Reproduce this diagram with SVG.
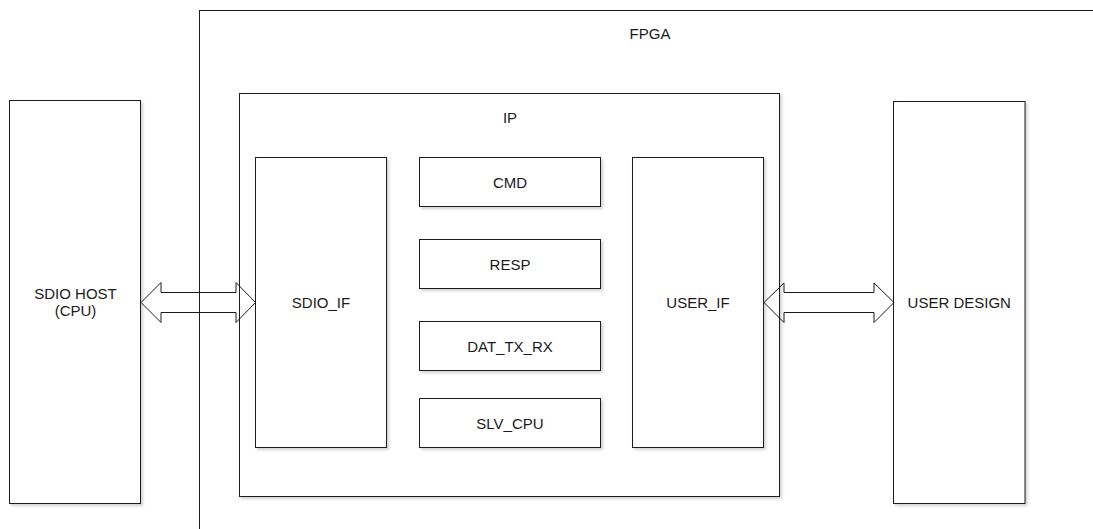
<svg xmlns="http://www.w3.org/2000/svg" width="1093" height="529" viewBox="0 0 1093 529">
  <defs>
    <filter id="shadow" x="-5%" y="-5%" width="115%" height="115%">
      <feDropShadow dx="2" dy="2" stdDeviation="1.5" flood-color="#000" flood-opacity="0.18"/>
    </filter>
  </defs>
  <style>
    .box { fill: #ffffff; stroke: #1a1a1a; stroke-width: 1; filter: url(#shadow); }
    .lbl { font-family: "Liberation Sans", Arial, sans-serif; font-size: 15px; fill: #1a1a1a; text-anchor: middle; }
    .arrow { fill: none; stroke: #1a1a1a; stroke-width: 1; stroke-linejoin: miter; }
  </style>
  <rect width="1093" height="529" fill="#ffffff"/>

  <g id="fpga">
    <rect class="box" x="199.5" y="10.5" width="1000" height="600"/>
    <text class="lbl" x="650" y="39">FPGA</text>
  </g>

  <g id="sdio-host">
    <rect class="box" x="9.5" y="100.5" width="131" height="403"/>
    <text class="lbl" x="75.5" y="299">SDIO HOST</text>
    <text class="lbl" x="75.5" y="315.5">(CPU)</text>
  </g>

  <g id="user-design">
    <rect class="box" x="893.5" y="101.5" width="131.5" height="402"/>
    <text class="lbl" x="959.25" y="308">USER DESIGN</text>
  </g>

  <g id="ip">
    <rect class="box" x="239.5" y="93.5" width="540" height="403"/>
    <text class="lbl" x="510" y="123">IP</text>
  </g>

  <g id="sdio-if">
    <rect class="box" x="255.5" y="157.5" width="131" height="290"/>
    <text class="lbl" x="321" y="308">SDIO_IF</text>
  </g>

  <g id="user-if">
    <rect class="box" x="632.5" y="157.5" width="131" height="290"/>
    <text class="lbl" x="698" y="308">USER_IF</text>
  </g>

  <g id="cmd">
    <rect class="box" x="419.5" y="157.5" width="181" height="49"/>
    <text class="lbl" x="510" y="187.5">CMD</text>
  </g>

  <g id="resp">
    <rect class="box" x="419.5" y="239.5" width="181" height="49"/>
    <text class="lbl" x="510" y="269.5">RESP</text>
  </g>

  <g id="dat-tx-rx">
    <rect class="box" x="419.5" y="321.5" width="181" height="49"/>
    <text class="lbl" x="510" y="351.5">DAT_TX_RX</text>
  </g>

  <g id="slv-cpu">
    <rect class="box" x="419.5" y="398.5" width="181" height="49"/>
    <text class="lbl" x="510" y="428.5">SLV_CPU</text>
  </g>

  <g id="connectors">
    <polygon class="arrow" points="141,302.5 161,282.5 161,292.5 236,292.5 236,282.5 255.5,302.5 236,322.5 236,312.5 161,312.5 161,322.5"/>
    <polygon class="arrow" points="764,302.5 784,283 784,292.5 874,292.5 874,283 894,302.5 874,322.5 874,312.5 784,312.5 784,322.5"/>
  </g>
</svg>
